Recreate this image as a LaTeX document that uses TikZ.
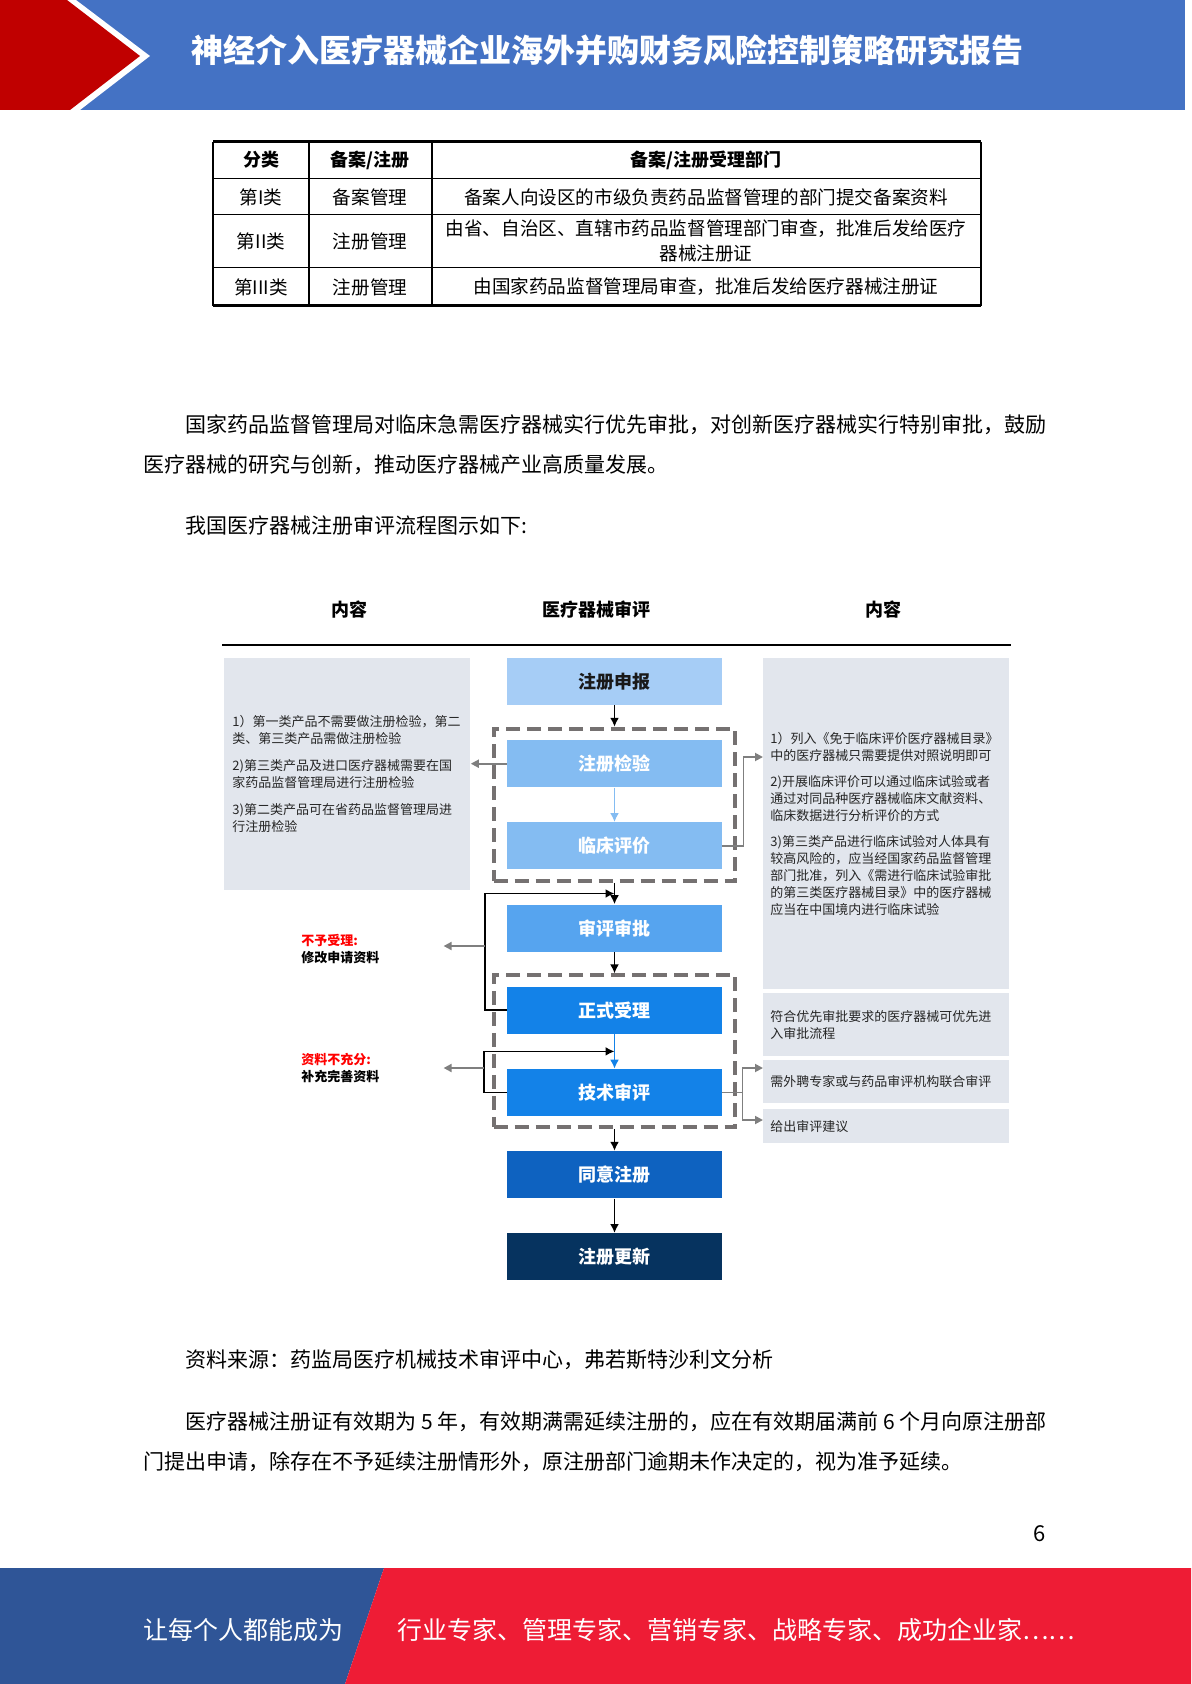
\documentclass[tikz,border=0pt]{standalone}
\usepackage{fontspec}
\setmainfont{Noto Sans CJK SC}
\usepackage{tikz}
\usetikzlibrary{arrows.meta, positioning, calc, fit}
\definecolor{hdrblue}{HTML}{4472C4}
\definecolor{hdrred}{HTML}{C00000}
\definecolor{ftblue}{HTML}{2F5597}
\definecolor{ftred}{HTML}{EE1C35}
\definecolor{boxgrey}{HTML}{E2E6ED}
\definecolor{dashgrey}{HTML}{757171}
\definecolor{sidegrey}{HTML}{7F7F7F}
\definecolor{cA}{HTML}{A6CDF6}
\definecolor{cB}{HTML}{84BCF2}
\definecolor{cC}{HTML}{56A4EF}
\definecolor{cD}{HTML}{1382E8}
\definecolor{cE}{HTML}{0E62C0}
\definecolor{cF}{HTML}{06335F}
\newcommand{\bodyline}[3]{%
  % #1 = name, #2 = left point, #3 = text
  \node[body] (#1) at #2 {#3};
}

\begin{document}
\begin{tikzpicture}[x=0.5pt, y=-0.5pt, >={Latex[length=4.5pt,width=4.5pt]},
  stepbox/.style={fill=#1, minimum width=107.5pt, minimum height=23.5pt, inner sep=0pt,
    font=\fontsize{9}{10}\selectfont\bfseries, text=white},
  greybox/.style={fill=boxgrey, anchor=north west, inner xsep=4pt, inner ysep=0pt, align=left,
    font=\fontsize{6.5}{8.5}\selectfont, text=black!85},
  dashbox/.style={draw=dashgrey, line width=2pt, dash pattern=on 7pt off 3.5pt,
    inner xsep=6.5pt, inner ysep=5.5pt},
  flow/.style={->, line width=0.9pt},
  side/.style={-{Triangle[length=4pt,width=4pt]}, draw=sidegrey, line width=0.9pt},
  body/.style={anchor=west, font=\fontsize{10.5}{12}\selectfont, inner sep=0pt},
  cell/.style={font=\fontsize{9.3}{12.5}\selectfont, align=center, inner sep=0pt},
  note/.style={anchor=west, align=left, font=\fontsize{6.5}{8.5}\selectfont\bfseries, inner sep=0pt},
  node distance=17.2pt]
\useasboundingbox (0,0) rectangle (1191,1684);

% header band
\fill[hdrblue] (0,0) rectangle (1185,110);
\fill[white] (0,0) -- (76,0) -- (150,56) -- (80,110) -- (0,110) -- cycle;
\fill[hdrred] (0,0) -- (67,0) -- (140,56) -- (70,110) -- (0,110) -- cycle;
\node[anchor=west, text=white, font=\fontsize{16}{18}\selectfont\bfseries, inner sep=0pt]
  (title) at (191,50) {神经介入医疗器械企业海外并购财务风险控制策略研究报告};

% table
\foreach \yy in {179,215,268}
  \draw[line width=0.5pt] (213,\yy) -- (981,\yy);
\draw[line width=1.5pt] (213,142) -- (981,142);
\draw[line width=1.5pt] (213,306) -- (981,306);
\draw[line width=1pt] (213,142) -- (213,306);
\draw[line width=1pt] (981,142) -- (981,306);
\draw[line width=0.8pt] (309,142) -- (309,306);
\draw[line width=0.8pt] (432,142) -- (432,306);
\node[cell, font=\fontsize{9}{12}\selectfont\bfseries] (h1) at (261,160) {分类};
\node[cell, font=\fontsize{9}{12}\selectfont\bfseries] (h2) at (370,160) {备案/注册};
\node[cell, font=\fontsize{9}{12}\selectfont\bfseries] (h3) at (706,160) {备案/注册受理部门};
\node[cell] (a1) at (261,197) {第I类};
\node[cell] (b1) at (370,197) {备案管理};
\node[cell] (d1) at (706,197) {备案人向设区的市级负责药品监督管理的部门提交备案资料};
\node[cell] (a2) at (261,241) {第II类};
\node[cell] (b2) at (370,241) {注册管理};
\node[cell] (d2) at (706,241) {由省、自治区、直辖市药品监督管理部门审查，批准后发给医疗\\器械注册证};
\node[cell] (a3) at (261,287) {第III类};
\node[cell] (b3) at (370,287) {注册管理};
\node[cell] (d3) at (706,287) {由国家药品监督管理局审查，批准后发给医疗器械注册证};

% text
\bodyline{p1}{(185,425)}{国家药品监督管理局对临床急需医疗器械实行优先审批，对创新医疗器械实行特别审批，鼓励}
\bodyline{p2}{(143,465)}{医疗器械的研究与创新，推动医疗器械产业高质量发展。}
\bodyline{p3}{(185,526)}{我国医疗器械注册审评流程图示如下:}

% flow chart
\node[font=\fontsize{9}{10}\selectfont\bfseries] (colL) at (349,610) {内容};
\node[font=\fontsize{9}{10}\selectfont\bfseries] (colM) at (596,610) {医疗器械审评};
\node[font=\fontsize{9}{10}\selectfont\bfseries] (colR) at (883,610) {内容};
\draw[line width=1pt] (222,645) -- (1011,645);

\node[stepbox=cA, text=black!90] (shenbao) at (614.5,681.5) {注册申报};
\node[stepbox=cB, below=of shenbao] (jianyan) {注册检验};
\node[stepbox=cB, below=of jianyan] (pingjia) {临床评价};
\node[stepbox=cC, below=of pingjia] (shenpi) {审评审批};
\node[stepbox=cD, below=of shenpi] (shouli) {正式受理};
\node[stepbox=cD, below=of shouli] (jishu) {技术审评};
\node[stepbox=cE, below=of jishu] (tongyi) {同意注册};
\node[stepbox=cF, below=of tongyi] (gengxin) {注册更新};
\node[dashbox, fit=(jianyan)(pingjia)] (grp1) {};
\node[dashbox, fit=(shouli)(jishu)] (grp2) {};

\node[greybox, text width=115pt, minimum height=116pt] (lbox) at (224,658)
  {1）第一类产品不需要做注册检验，第二\\类、第三类产品需做注册检验\\[5pt]
   2)第三类产品及进口医疗器械需要在国\\家药品监督管理局进行注册检验\\[5pt]
   3)第二类产品可在省药品监督管理局进\\行注册检验};
\node[greybox, text width=116pt, inner xsep=3.5pt, minimum height=165.5pt] (rbox1) at (763,658)
  {1）列入《免于临床评价医疗器械目录》\\中的医疗器械只需要提供对照说明即可\\[4.5pt]
   2)开展临床评价可以通过临床试验或者\\通过对同品种医疗器械临床文献资料、\\临床数据进行分析评价的方式\\[4.5pt]
   3)第三类产品进行临床试验对人体具有\\较高风险的，应当经国家药品监督管理\\部门批准，列入《需进行临床试验审批\\的第三类医疗器械目录》中的医疗器械\\应当在中国境内进行临床试验};
\node[greybox, text width=116pt, inner xsep=3.5pt, minimum height=31.5pt] (rbox2) at (763,993)
  {符合优先审批要求的医疗器械可优先进\\入审批流程};
\node[greybox, text width=116pt, inner xsep=3.5pt, minimum height=21.5pt] (rbox3) at (763,1060)
  {需外聘专家或与药品审评机构联合审评};
\node[greybox, text width=116pt, inner xsep=3.5pt, minimum height=17pt] (rbox4) at (763,1109)
  {给出审评建议};

\node[note] (lab1) at (301,949) {\textcolor{red}{不予受理:}\\修改申请资料};
\node[note] (lab2) at (301,1068) {\textcolor{red}{资料不充分:}\\补充完善资料};

\draw[flow] (shenbao.south) -- (grp1.north);
\draw[flow, draw=cB, line width=0.8pt] (jianyan.south) -- (pingjia.north);
\draw[flow] (grp1.south) -- (shenpi.north);
\draw[flow] (shenpi.south) -- (grp2.north);
\draw[flow, draw=cD, line width=0.8pt] (shouli.south) -- (jishu.north);
\draw[flow] (grp2.south) -- (tongyi.north);
\draw[flow] (tongyi.south) -- (gengxin.north);

% returns to the left
\coordinate (m1) at ($(grp1.south)!0.5!(shenpi.north)$);
\coordinate (m2) at ($(shouli.south)!0.5!(jishu.north)$);
\draw[flow] (shouli.west) -- ++(-22,0) coordinate (k1) |- (m1);
\draw[flow] (jishu.west) -- ++(-23,0) coordinate (k2) |- (m2);
\draw[side] (lab1.east -| k1) ++(0,-3) -- ++(-41,0);
\draw[side] (lab2.east -| k2) -- ++(-40,0);
\draw[side] (jianyan.west) -- (jianyan.west -| lbox.east);

% side notes on the right
\coordinate (r1in) at (763,757);
\coordinate (r3in) at (763,1068);
\coordinate (r4in) at (763,1120);
\draw[side] (pingjia.east) -- ++(21,0) |- (r1in);
\draw[sidegrey, line width=0.9pt] (jishu.east) -- ++(20,0) coordinate (k3);
\draw[side] (k3) |- (r3in);
\draw[side] (k3) |- (r4in);

% text below
\bodyline{src}{(185,1360)}{资料来源：药监局医疗机械技术审评中心，弗若斯特沙利文分析}
\bodyline{p4}{(185,1422)}{医疗器械注册证有效期为 5 年，有效期满需延续注册的，应在有效期届满前 6 个月向原注册部}
\bodyline{p5}{(143,1462)}{门提出申请，除存在不予延续注册情形外，原注册部门逾期未作决定的，视为准予延续。}
\node[font=\fontsize{11}{12}\selectfont] (pnum) at (1040,1534) {6};

% footer band
\fill[ftblue] (0,1568) -- (384,1568) -- (345,1684) -- (0,1684) -- cycle;
\fill[ftred] (384,1568) -- (1191,1568) -- (1191,1684) -- (345,1684) -- cycle;
\node[anchor=west, text=white, font=\fontsize{12.5}{14}\selectfont, inner sep=0pt]
  (motto1) at (143,1630) {让每个人都能成为};
\node[anchor=west, text=white, font=\fontsize{12.5}{14}\selectfont, inner sep=0pt]
  (motto2) at (397,1630) {行业专家、管理专家、营销专家、战略专家、成功企业家……};
\end{tikzpicture}
\end{document}
